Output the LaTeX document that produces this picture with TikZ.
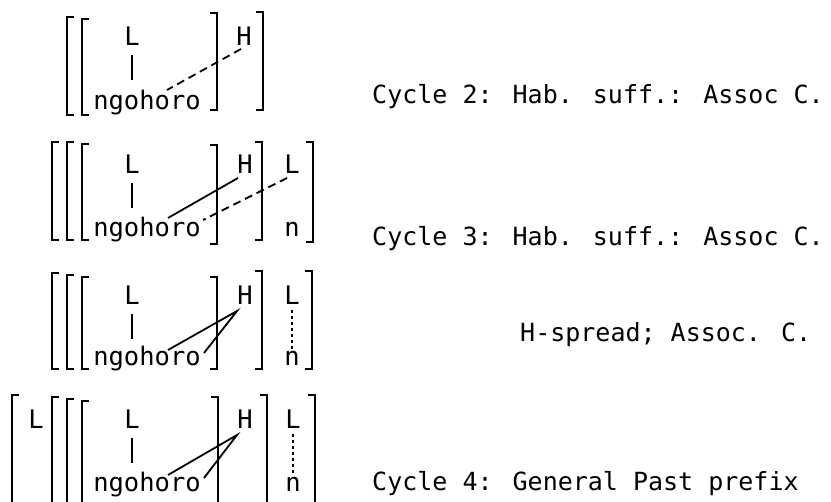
\documentclass[tikz,border=0pt]{standalone}
\usepackage{fontspec}
\setmainfont{DejaVu Sans Mono}
\newcommand\lbrk[3]{\draw[brk] (#1+7,#2) -- (#1,#2) -- (#1,#3) -- (#1+7,#3);}
\newcommand\rbrk[3]{\draw[brk] (#1-7,#2) -- (#1,#2) -- (#1,#3) -- (#1-7,#3);}
\begin{document}
\begin{tikzpicture}[x=1pt,y=-1pt,
  txt/.style={font=\fontsize{25.5}{30}\selectfont, inner sep=0pt, anchor=base},
  lab/.style={font=\fontsize{25}{30}\selectfont, inner sep=0pt, anchor=base west},
  brk/.style={line width=1.8pt},
  assoc/.style={line width=1.8pt},
  newassoc/.style={line width=1.8pt, dash pattern=on 8pt off 5pt},
  dotl/.style={line width=1.8pt, dash pattern=on 3pt off 3pt}]
\useasboundingbox (0,0) rectangle (831,502);
\fill[white] (0,0) rectangle (831,502);

% ---------- block 1 ----------
\begin{scope}[shift={(0,12)}]
  \lbrk{67}{5}{103}
  \lbrk{82}{7}{103}
  \node[txt] (aL) at (132,34) {L};
  \node[txt] (aw) at (147,98) {ngohoro};
  \coordinate (av) at (132,68);
  \draw[assoc] ([yshift=-9pt]aL.south) -- (av);
  \rbrk{217}{1}{98}
  \node[txt] (aH) at (244,34) {H};
  \coordinate (ah) at (241,37);
  \coordinate (ao) at (167,78);
  \draw[newassoc] (ah) -- (ao);
  \rbrk{263}{0}{98}
\end{scope}
\node[lab] (c2) at (372,104) {Cycle 2: Hab. suff.: Assoc C.};

% ---------- block 2 ----------
\begin{scope}[shift={(0,140)}]
  \lbrk{52}{2}{100}
  \lbrk{67}{2}{100}
  \lbrk{82}{4}{100}
  \node[txt] (bL) at (132,34) {L};
  \node[txt] (bw) at (147,97) {ngohoro};
  \coordinate (bv) at (132,68);
  \draw[assoc] ([yshift=-9pt]bL.south) -- (bv);
  \rbrk{217}{5}{104}
  \node[txt] (bH) at (245,34) {H};
  \coordinate (bh) at (238,38);
  \coordinate (bo) at (168,78);
  \draw[assoc] (bh) -- (bo);
  \rbrk{262}{2}{100}
  \node[txt] (bL2) at (292,34) {L};
  \node[txt] (bn) at (292,97) {n};
  \coordinate (bl) at (287,38);
  \coordinate (bo2) at (203,80);
  \draw[newassoc] (bl) -- (bo2);
  \rbrk{313}{2}{102}
\end{scope}
\node[lab] (c3) at (372,246) {Cycle 3: Hab. suff.: Assoc C.};

% ---------- block 3 ----------
\begin{scope}[shift={(0,271)}]
  \lbrk{52}{2}{98}
  \lbrk{67}{4}{98}
  \lbrk{82}{6}{98}
  \node[txt] (cL) at (132,34) {L};
  \node[txt] (cw) at (147,95) {ngohoro};
  \coordinate (cv) at (132,68);
  \draw[assoc] ([yshift=-9pt]cL.south) -- (cv);
  \rbrk{217}{6}{98}
  \node[txt] (cH) at (245,34) {H};
  \coordinate (ch) at (237,40);
  \coordinate (co) at (168,79);
  \coordinate (co2) at (204,82);
  \draw[assoc] (co) -- (ch) -- (co2);
  \rbrk{262}{0}{98}
  \node[txt] (cL2) at (292,34) {L};
  \node[txt] (cn) at (292,95) {n};
  \draw[dotl] ([yshift=-5pt]cL2.south) -- ([yshift=3pt]cn.north);
  \rbrk{312}{0}{98}
\end{scope}
\node[lab] (c4) at (520,342) {H-spread; Assoc. C.};

% ---------- block 4 ----------
\begin{scope}[shift={(0,395)}]
  \lbrk{12}{0}{110}
  \node[txt] (dL0) at (36,34) {L};
  \lbrk{52}{2}{110}
  \lbrk{67}{4}{110}
  \lbrk{82}{6}{110}
  \node[txt] (dL) at (132,34) {L};
  \node[txt] (dw) at (147,97) {ngohoro};
  \coordinate (dv) at (132,68);
  \draw[assoc] ([yshift=-9pt]dL.south) -- (dv);
  \rbrk{218}{2}{110}
  \node[txt] (dH) at (245,34) {H};
  \coordinate (dh) at (237,40);
  \coordinate (do) at (168,80);
  \coordinate (do2) at (204,83);
  \draw[assoc] (do) -- (dh) -- (do2);
  \rbrk{267}{0}{110}
  \node[txt] (dL2) at (293,34) {L};
  \node[txt] (dn) at (293,97) {n};
  \draw[dotl] ([yshift=-5pt]dL2.south) -- ([yshift=3pt]dn.north);
  \rbrk{315}{0}{110}
\end{scope}
\node[lab] (c5) at (372,491) {Cycle 4: General Past prefix};
\end{tikzpicture}
\end{document}
